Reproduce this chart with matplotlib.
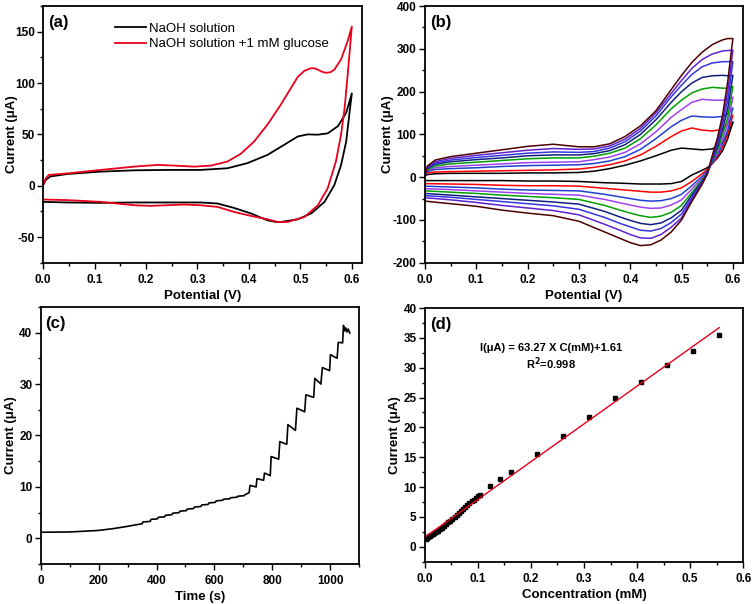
import numpy as np
import matplotlib
matplotlib.use('Agg')
from matplotlib import pyplot as plt
from matplotlib.ticker import MultipleLocator, FormatStrFormatter

plt.rcParams['font.family'] = ['Liberation Sans', 'DejaVu Sans']
plt.rcParams['axes.unicode_minus'] = False

# (a) CV em NaOH, com e sem glicose
a_black_x = [0.0, 0.005, 0.014, 0.047, 0.11, 0.177, 0.24, 0.306, 0.358, 0.397, 0.436, 0.469, 0.495,
             0.514, 0.534, 0.553, 0.573, 0.589, 0.6,
             0.595, 0.589, 0.579, 0.566, 0.547, 0.521, 0.495, 0.462, 0.453, 0.436, 0.404, 0.371,
             0.339, 0.306, 0.242, 0.177, 0.112, 0.047, 0.0]
a_black_y = [0.6, 5.5, 9.0, 11.4, 13.7, 15.0, 15.4, 15.4, 17.0, 22.0, 30.0, 40.0, 48.0,
             50.0, 49.7, 51.0, 58.0, 71.0, 90.0,
             69.0, 43.0, 20.0, 0.7, -15.7, -27.0, -32.7, -35.3, -35.3, -33.7, -27.0, -21.6,
             -17.3, -16.3, -16.3, -16.3, -16.7, -16.3, -15.7]
a_red_x = [0.0, 0.005, 0.011, 0.047, 0.112, 0.177, 0.222, 0.255, 0.294, 0.326, 0.358, 0.384, 0.41,
           0.436, 0.462, 0.482, 0.495, 0.508, 0.521, 0.528, 0.534, 0.542, 0.55, 0.558, 0.566, 0.579,
           0.592, 0.6,
           0.592, 0.586, 0.579, 0.569, 0.553, 0.534, 0.508, 0.475, 0.456, 0.436, 0.404, 0.371,
           0.339, 0.306, 0.274, 0.209, 0.177, 0.112, 0.047, 0.0]
a_red_y = [0.6, 7.0, 10.5, 12.0, 15.4, 18.6, 20.3, 19.6, 18.6, 19.6, 23.5, 31.0, 43.0,
           59.5, 79.0, 95.4, 106.0, 112.0, 114.5, 114.3, 113.0, 111.0, 110.0, 110.5, 113.0, 123.0,
           141.0, 155.0,
           108.5, 75.8, 49.7, 23.5, -2.6, -19.0, -30.4, -35.3, -35.3, -32.7, -29.4, -25.5,
           -20.6, -19.0, -18.3, -19.6, -19.0, -15.7, -14.0, -13.4]

# (b) CV com concentrações crescentes de glicose (9 curvas)
b_fwd_x = [0.0, 0.005, 0.02, 0.05, 0.1, 0.15, 0.2, 0.25, 0.3, 0.33, 0.36, 0.39, 0.42, 0.45,
           0.48, 0.5, 0.52, 0.54, 0.56, 0.58, 0.59, 0.6]
b_rev_x = [0.6, 0.59, 0.58, 0.57, 0.56, 0.55, 0.54, 0.52, 0.5, 0.48, 0.46, 0.44, 0.42, 0.4,
           0.38, 0.35, 0.3, 0.25, 0.2, 0.15, 0.1, 0.05, 0.0]
b_colors = ['#000000', '#ff0000', '#2040d0', '#a040f0', '#00a000', '#102080', '#3535e0',
            '#6020d0', '#500000']
b_fwd_y = [
    [3, 6, 8, 9, 9, 9, 10, 10, 11, 14, 20, 28, 38, 50, 63, 68, 66, 64, 66, 80, 100, 129],
    [3, 10, 12, 13, 14, 15, 16, 17, 19, 23, 29, 38, 52, 72, 95, 108, 115, 110, 108, 112, 125, 145],
    [3, 13, 18, 20, 22, 25, 27, 28, 29, 32, 38, 48, 65, 90, 118, 133, 143, 141, 140, 142, 148, 162],
    [3, 15, 22, 25, 28, 31, 34, 35, 36, 41, 47, 58, 78, 106, 140, 158, 175, 182, 180, 180, 182, 187],
    [3, 17, 26, 31, 35, 39, 43, 45, 45, 49, 56, 68, 90, 122, 160, 180, 197, 206, 210, 208, 208, 212],
    [3, 20, 30, 36, 41, 45, 50, 52, 52, 55, 62, 76, 100, 134, 175, 200, 220, 233, 237, 238, 237, 238],
    [3, 22, 33, 40, 46, 51, 56, 59, 58, 60, 68, 83, 108, 143, 188, 215, 240, 258, 267, 270, 270, 270],
    [3, 24, 36, 44, 51, 57, 63, 67, 65, 66, 73, 89, 114, 150, 196, 226, 254, 275, 288, 295, 296, 297],
    [3, 26, 40, 48, 56, 64, 72, 77, 71, 71, 78, 95, 120, 155, 205, 238, 268, 292, 310, 321, 324, 324],
]
b_rev_y = [
    [129, 90, 62, 45, 32, 22, 16, 5, -10, -15, -16, -16, -16, -15, -14, -13, -10, -9, -9, -8, -8, -8, -8],
    [145, 100, 70, 48, 32, 18, 8, -10, -25, -32, -35, -35, -33, -31, -29, -26, -21, -20, -20, -19, -17, -16, -15],
    [162, 110, 78, 52, 33, 15, 2, -20, -40, -50, -55, -56, -54, -50, -46, -40, -32, -31, -30, -28, -25, -23, -21],
    [187, 125, 88, 58, 35, 12, -3, -28, -53, -65, -72, -73, -70, -65, -60, -52, -42, -40, -38, -35, -32, -29, -27],
    [212, 140, 100, 64, 37, 10, -7, -36, -66, -82, -91, -94, -90, -84, -77, -66, -52, -48, -45, -42, -38, -35, -32],
    [238, 160, 112, 72, 40, 9, -10, -42, -77, -95, -107, -111, -108, -101, -93, -80, -63, -58, -54, -50, -46, -42, -38],
    [270, 180, 125, 80, 44, 8, -13, -48, -86, -106, -120, -126, -124, -116, -108, -94, -75, -67, -62, -57, -52, -47, -43],
    [297, 200, 135, 86, 47, 7, -15, -52, -95, -117, -134, -143, -142, -134, -124, -110, -88, -78, -72, -66, -59, -53, -48],
    [324, 224, 145, 92, 51, 8, -17, -57, -100, -128, -147, -158, -160, -153, -143, -128, -103, -90, -84, -77, -68, -62, -56],
]

# (c) cronoamperometria
c_time = [0, 100, 200, 250, 300, 350, 353, 378, 381, 403, 406, 428, 431, 453, 456, 478, 481, 503,
          506, 528, 531, 553, 556, 578, 581, 603, 606, 628, 631, 653, 656, 678, 681, 703, 706, 720,
          723, 744, 747, 770, 773, 793, 796, 822, 826, 850, 854, 880, 885, 912, 916, 943, 947, 968,
          973, 998, 1001, 1024, 1028, 1043, 1046, 1050, 1054, 1058, 1062, 1068]
c_current = [1.2, 1.25, 1.55, 1.9, 2.35, 2.85, 3.2, 3.3, 3.7, 3.8, 4.1, 4.2, 4.5, 4.6, 4.9, 5.0, 5.3, 5.4,
             5.7, 5.8, 6.1, 6.2, 6.5, 6.6, 6.9, 7.0, 7.3, 7.4, 7.6, 7.7, 7.9, 8.0, 8.2, 8.3, 8.5, 8.9,
             10.3, 10.0, 11.6, 11.3, 12.7, 12.2, 15.9, 15.4, 18.8, 18.3, 22.1, 21.0, 25.3, 24.6, 27.9, 27.4, 31.1, 30.0,
             33.2, 32.6, 35.7, 35.0, 38.1, 38.0, 41.4, 40.3, 40.9, 40.1, 40.7, 39.9]

# (d) curva de calibração
d_conc = [0.002, 0.004, 0.006, 0.008, 0.010, 0.012, 0.015, 0.018, 0.021, 0.024, 0.028, 0.032,
          0.036, 0.040, 0.044, 0.048, 0.052, 0.056, 0.060, 0.064, 0.068, 0.072, 0.076, 0.080,
          0.084, 0.088, 0.092, 0.096, 0.100, 0.104, 0.122, 0.142, 0.162, 0.211, 0.260, 0.309,
          0.358, 0.407, 0.456, 0.506, 0.554]
d_current = [1.35, 1.5, 1.6, 1.75, 1.85, 2.0, 2.15, 2.35, 2.5, 2.7, 2.95, 3.2,
             3.5, 3.8, 4.1, 4.4, 4.7, 5.0, 5.35, 5.65, 6.0, 6.3, 6.65, 6.95,
             7.3, 7.6, 7.9, 8.2, 8.5, 8.75, 10.2, 11.3, 12.6, 15.5, 18.5, 21.7,
             24.9, 27.6, 30.4, 32.8, 35.5]
fit_slope = 63.27
fit_intercept = 1.61
fit_range = [0.0, 0.555]


def style(ax):
    for s in ax.spines.values():
        s.set_linewidth(1.3)
    ax.tick_params(which='both', direction='out', top=False, right=False, width=1.0,
                   labelsize=8.5)
    ax.tick_params(axis='y', pad=2)
    ax.tick_params(axis='x', pad=4)
    ax.tick_params(which='major', length=4)
    ax.tick_params(which='minor', length=2.5)
    for lab in ax.get_xticklabels() + ax.get_yticklabels():
        lab.set_fontweight('bold')


def labels(ax, xlabel, ylab_x):
    ax.set_xlabel(xlabel, fontsize=9.5, fontweight='bold', labelpad=3)
    ax.set_ylabel('Current (μA)', fontsize=9.5, fontweight='bold')
    ax.yaxis.set_label_coords(ylab_x, 0.5)


fig = plt.figure(figsize=(7.56, 6.04), dpi=100)

# (a)
ax1 = fig.add_axes([0.057, 0.565, 0.422, 0.425])
ax1.plot(a_black_x, a_black_y, color='k', lw=1.3, label='NaOH solution')
ax1.plot(a_red_x, a_red_y, color='#e8001c', lw=1.3, label='NaOH solution +1 mM glucose')
ax1.set_xlim(0, 0.62)
ax1.set_ylim(-75, 175)
ax1.xaxis.set_major_locator(MultipleLocator(0.1))
ax1.xaxis.set_minor_locator(MultipleLocator(0.05))
ax1.yaxis.set_major_locator(MultipleLocator(50))
ax1.yaxis.set_minor_locator(MultipleLocator(25))
ax1.xaxis.set_major_formatter(FormatStrFormatter('%.1f'))
labels(ax1, 'Potential (V)', -0.08)
ax1.legend(loc='upper left', bbox_to_anchor=(0.226, 0.935), frameon=False, fontsize=9.5,
           handlelength=2.3, handletextpad=0.3, labelspacing=0.25, borderpad=0, borderaxespad=0)
ax1.text(0.015, 0.965, '(a)', transform=ax1.transAxes, va='top', fontsize=12, fontweight='bold')
style(ax1)

# (b)
ax2 = fig.add_axes([0.562, 0.565, 0.421, 0.425])
for fy, ry, c in zip(b_fwd_y, b_rev_y, b_colors):
    ax2.plot(b_fwd_x + b_rev_x, fy + ry, color=c, lw=1.1)
ax2.set_xlim(0, 0.62)
ax2.set_ylim(-200, 400)
ax2.xaxis.set_major_locator(MultipleLocator(0.1))
ax2.xaxis.set_minor_locator(MultipleLocator(0.05))
ax2.yaxis.set_major_locator(MultipleLocator(100))
ax2.yaxis.set_minor_locator(MultipleLocator(50))
ax2.xaxis.set_major_formatter(FormatStrFormatter('%.1f'))
labels(ax2, 'Potential (V)', -0.098)
ax2.text(0.015, 0.965, '(b)', transform=ax2.transAxes, va='top', fontsize=12, fontweight='bold')
style(ax2)

# (c)
ax3 = fig.add_axes([0.054, 0.066, 0.421, 0.426])
ax3.plot(c_time, c_current, color='k', lw=1.2)
ax3.set_xlim(0, 1100)
ax3.set_ylim(-5, 45)
ax3.xaxis.set_major_locator(MultipleLocator(200))
ax3.xaxis.set_minor_locator(MultipleLocator(100))
ax3.yaxis.set_major_locator(MultipleLocator(10))
ax3.yaxis.set_minor_locator(MultipleLocator(5))
labels(ax3, 'Time (s)', -0.074)
ax3.text(0.015, 0.965, '(c)', transform=ax3.transAxes, va='top', fontsize=12, fontweight='bold')
style(ax3)

# (d)
ax4 = fig.add_axes([0.562, 0.070, 0.421, 0.420])
ax4.plot(d_conc, d_current, 's', color='k', ms=2.6)
fit_x = np.array(fit_range)
ax4.plot(fit_x, fit_slope * fit_x + fit_intercept, color='#e8001c', lw=1.0)
ax4.set_xlim(0, 0.6)
ax4.set_ylim(-2.5, 40)
ax4.xaxis.set_major_locator(MultipleLocator(0.1))
ax4.xaxis.set_minor_locator(MultipleLocator(0.05))
ax4.yaxis.set_major_locator(MultipleLocator(5))
ax4.yaxis.set_minor_locator(MultipleLocator(2.5))
ax4.xaxis.set_major_formatter(FormatStrFormatter('%.1f'))
labels(ax4, 'Concentration (mM)', -0.076)
ax4.text(0.238, 33.3, 'I(μA) = 63.27 X C(mM)+1.61', ha='center', va='center',
         fontsize=8, fontweight='bold')
ax4.text(0.238, 30.6, 'R$^{\\mathbf{2}}$=0.998', ha='center', va='center',
         fontsize=8, fontweight='bold')
ax4.text(0.015, 0.965, '(d)', transform=ax4.transAxes, va='top', fontsize=12, fontweight='bold')
style(ax4)

fig.savefig('out.png', dpi=100)
